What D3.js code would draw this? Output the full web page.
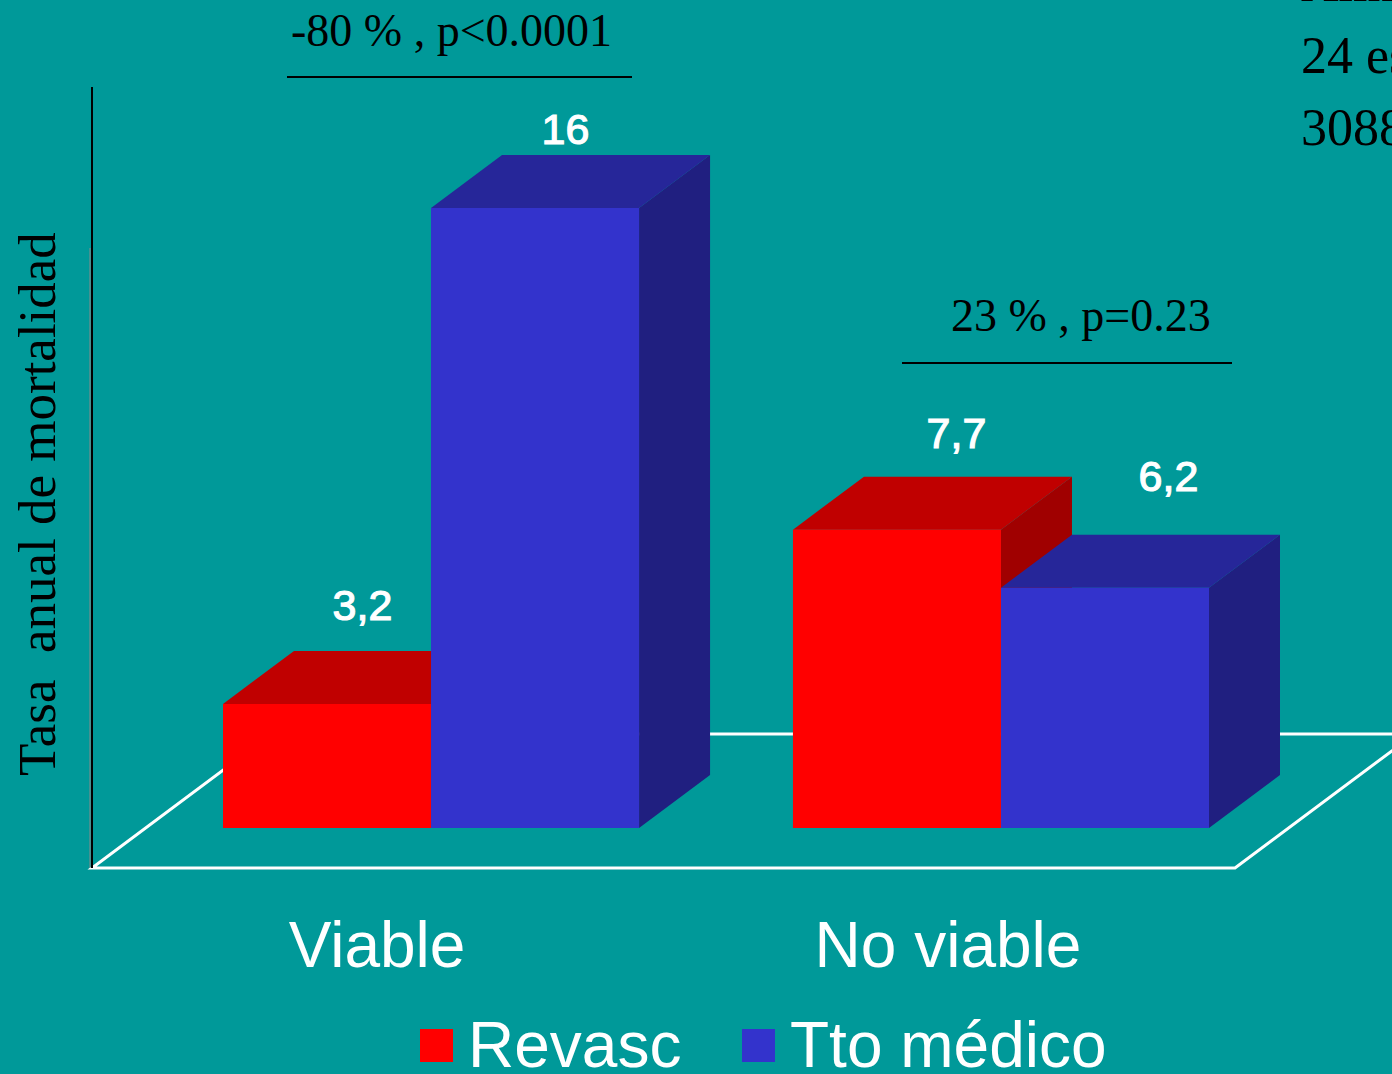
<!DOCTYPE html>
<html>
<head>
<meta charset="utf-8">
<script src="https://cdn.jsdelivr.net/npm/d3@7"></script>
<style>
  html, body { margin: 0; padding: 0; background: #009999; overflow: hidden; }
  svg { display: block; }
</style>
</head>
<body>
<script>
// Annual mortality rate by myocardial viability and treatment
const categories = ["Viable", "No viable"];
const series = ["Revasc", "Tto médico"];
const revascValues = [3.2, 7.7];
const medicoValues = [16, 6.2];
const valueLabels = [["3,2", "16"], ["7,7", "6,2"]];
const comparisons = ["-80 % , p<0.0001", "23 % , p=0.23"];
const yTitle = "Tasa  anual de mortalidad";
const sideNotes = ["Allman KC, JACC 2002", "24 estudios", "3088 pacientes"];

const W = 1392, H = 1074;
const colors = {
  "Revasc": { front: "#ff0000", top: "#c00000", side: "#a00000" },
  "Tto médico": { front: "#3333cc", top: "#262699", side: "#201f80" }
};
const depth = { dx: 71, dy: -53 };

const svg = d3.select("body").append("svg").attr("width", W).attr("height", H);
svg.append("rect").attr("width", W).attr("height", H).attr("fill", "#009999");

const x0 = d3.scaleBand().domain(categories).range([223, 1209]).paddingInner(0.27).paddingOuter(0);
const x1 = d3.scaleBand().domain(series).range([0, x0.bandwidth()]).padding(0);
const y = d3.scaleLinear().domain([0, 16]).range([828, 208]);

// floor of the 3D plot
const floorFront = 868, floorBack = 734;
const floorSlope = depth.dy / depth.dx;
const floorDx = (floorBack - floorFront) / floorSlope;
const floorLeft = 92, floorRight = 1235;
const floorPts = [
  [floorLeft, floorFront], [floorRight, floorFront],
  [floorRight + floorDx, floorBack], [floorLeft + floorDx, floorBack]
];
svg.append("polygon")
  .attr("points", floorPts.map(p => p.join(",")).join(" "))
  .attr("fill", "none").attr("stroke", "#ffffff").attr("stroke-width", 3)
  .attr("stroke-linejoin", "miter");

// vertical axis line
svg.append("line").attr("x1", 90).attr("x2", 90).attr("y1", 248).attr("y2", 868)
  .attr("stroke", "#8a8a8a").attr("stroke-width", 1);
svg.append("line").attr("x1", 92).attr("x2", 92).attr("y1", 87).attr("y2", 868)
  .attr("stroke", "#000000").attr("stroke-width", 2);

// bars
const rows = [];
categories.forEach((c, i) => {
  rows.push({ cat: c, ser: series[0], value: revascValues[i], label: valueLabels[i][0] });
  rows.push({ cat: c, ser: series[1], value: medicoValues[i], label: valueLabels[i][1] });
});

const bars = svg.append("g");
rows.forEach(d => {
  const xl = x0(d.cat) + x1(d.ser);
  const xr = xl + x1.bandwidth();
  const yt = y(d.value), yb = y(0);
  const c = colors[d.ser];
  const g = bars.append("g");
  // side face
  g.append("polygon")
    .attr("points", [[xr, yb], [xr + depth.dx, yb + depth.dy], [xr + depth.dx, yt + depth.dy], [xr, yt]].map(p => p.join(",")).join(" "))
    .attr("fill", c.side);
  // top face
  g.append("polygon")
    .attr("points", [[xl, yt], [xr, yt], [xr + depth.dx, yt + depth.dy], [xl + depth.dx, yt + depth.dy]].map(p => p.join(",")).join(" "))
    .attr("fill", c.top);
  // front face
  g.append("rect").attr("x", xl).attr("y", yt).attr("width", xr - xl).attr("height", yb - yt)
    .attr("fill", c.front);
});

// value labels above each bar
const labelNudge = [[0, -31], [-5, -11], [24, -29], [28, -44]];
rows.forEach((d, i) => {
  const xc = x0(d.cat) + x1(d.ser) + x1.bandwidth() / 2 + depth.dx / 2;
  svg.append("text")
    .attr("x", xc + labelNudge[i][0])
    .attr("y", y(d.value) + depth.dy + labelNudge[i][1])
    .attr("text-anchor", "middle")
    .attr("font-family", "Liberation Sans, Arial, sans-serif")
    .attr("font-size", 43)
    .attr("fill", "#ffffff")
    .attr("stroke", "#ffffff")
    .attr("stroke-width", 1.2)
    .text(d.label);
});

// category labels
const catCenter = [377, 948];
categories.forEach((c, i) => {
  svg.append("text")
    .attr("x", catCenter[i]).attr("y", 967)
    .attr("text-anchor", "middle")
    .attr("font-family", "Liberation Sans, Arial, sans-serif")
    .attr("font-size", 64)
    .attr("fill", "#ffffff")
    .text(c);
});

// comparison annotations with rule below
const compLayout = [
  { x: 291, y: 46, lx1: 287, lx2: 632, ly: 77 },
  { x: 951, y: 331, lx1: 902, lx2: 1232, ly: 363 }
];
comparisons.forEach((t, i) => {
  const L = compLayout[i];
  svg.append("text")
    .attr("x", L.x).attr("y", L.y)
    .attr("font-family", "Liberation Serif, Times New Roman, serif")
    .attr("font-size", 46)
    .attr("fill", "#000000")
    .text(t);
  svg.append("line").attr("x1", L.lx1).attr("x2", L.lx2).attr("y1", L.ly).attr("y2", L.ly)
    .attr("stroke", "#000000").attr("stroke-width", 2);
});

// y-axis title
svg.append("text")
  .attr("transform", "translate(55,504) rotate(-90)")
  .attr("text-anchor", "middle")
  .attr("font-family", "Liberation Serif, Times New Roman, serif")
  .attr("font-size", 53)
  .attr("fill", "#000000")
  .attr("xml:space", "preserve")
  .style("white-space", "pre")
  .text(yTitle);

// study notes at the top right
sideNotes.forEach((t, i) => {
  svg.append("text")
    .attr("x", 1301).attr("y", 1 + i * 72)
    .attr("font-family", "Liberation Serif, Times New Roman, serif")
    .attr("font-size", 52)
    .attr("fill", "#000000")
    .text(t);
});

// legend
const legendLayout = [{ sx: 420, tx: 468 }, { sx: 742, tx: 790 }];
series.forEach((s, i) => {
  const L = legendLayout[i];
  svg.append("rect").attr("x", L.sx).attr("y", 1029).attr("width", 33).attr("height", 33)
    .attr("fill", colors[s].front);
  svg.append("text")
    .attr("x", L.tx).attr("y", 1067)
    .attr("font-family", "Liberation Sans, Arial, sans-serif")
    .attr("font-size", 64)
    .attr("fill", "#ffffff")
    .text(s);
});
</script>
</body>
</html>
